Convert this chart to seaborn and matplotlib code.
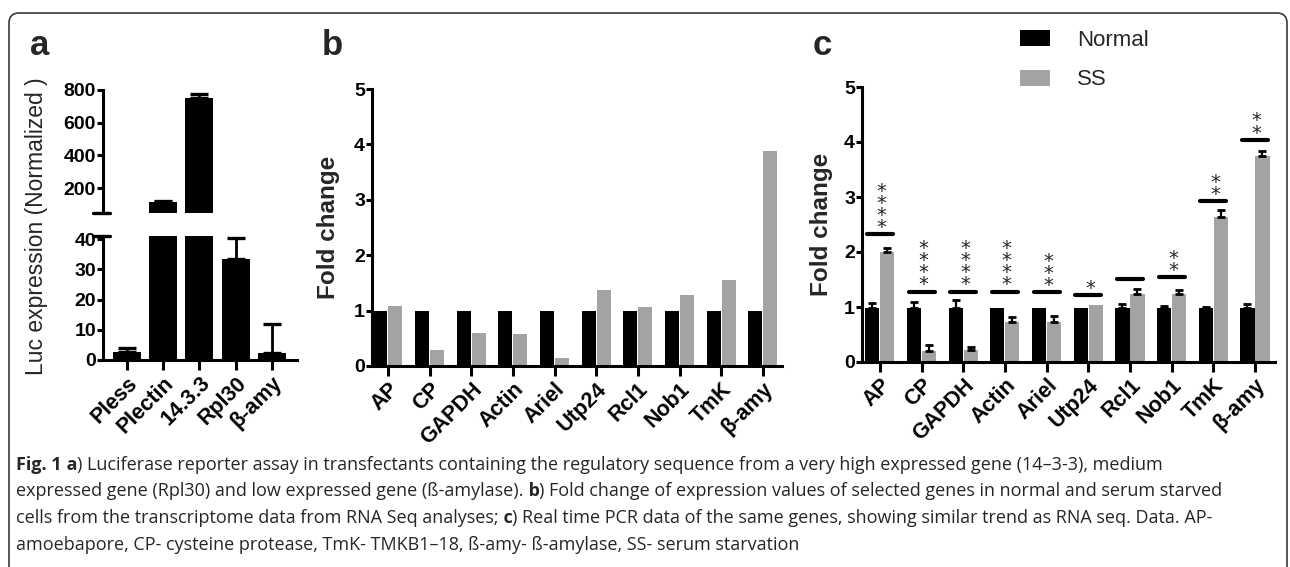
import matplotlib
matplotlib.use('Agg')
import matplotlib.pyplot as plt
import matplotlib.colors as mcolors
from matplotlib.patches import FancyBboxPatch, Patch
import numpy as np
import pandas as pd
import seaborn as sns

# panel a - luciferase reporter
luc_genes = ['Pless', 'Plectin', '14.3.3', 'Rpl30', 'β-amy']
luc_mean = [2.6, 114, 751, 33.5, 2.3]
luc_upper = [3.9, 118, 777, 40.3, 11.8]

# panel b - RNA seq fold change
genes = ['AP', 'CP', 'GAPDH', 'Actin', 'Ariel', 'Utp24', 'Rcl1', 'Nob1', 'TmK', 'β-amy']
seq_normal = [1, 1, 1, 1, 1, 1, 1, 1, 1, 1]
seq_ss = [1.08, 0.29, 0.59, 0.57, 0.14, 1.37, 1.06, 1.29, 1.56, 3.88]

# panel c - real time PCR
pcr_normal = [0.98, 0.98, 0.98, 0.98, 0.98, 0.98, 0.98, 0.98, 0.98, 0.98]
pcr_normal_upper = [1.08, 1.10, 1.13, 0.98, 0.98, 0.98, 1.06, 1.02, 1.0, 1.05]
pcr_ss = [2.0, 0.2, 0.22, 0.73, 0.73, 1.03, 1.23, 1.23, 2.64, 3.75]
pcr_ss_upper = [2.08, 0.31, 0.27, 0.81, 0.83, 1.03, 1.33, 1.31, 2.77, 3.84]
sig_level = [2.32, 1.28, 1.28, 1.28, 1.27, 1.22, 1.51, 1.54, 2.92, 4.04]
sig_stars = ['****', '****', '****', '****', '***', '*', '', '**', '**', '**']

caption_lines = [
    [('Fig. 1', 'bold'), (' a', 'bold'),
     (') Luciferase reporter assay in transfectants containing the regulatory sequence from a very high expressed gene (14–3-3), medium', 'normal')],
    [('expressed gene (Rpl30) and low expressed gene (ß-amylase).', 'normal'), (' b', 'bold'),
     (') Fold change of expression values of selected genes in normal and serum starved', 'normal')],
    [('cells from the transcriptome data from RNA Seq analyses;', 'normal'), (' c', 'bold'),
     (') Real time PCR data of the same genes, showing similar trend as RNA seq. Data. AP-', 'normal')],
    [('amoebapore, CP- cysteine protease, TmK- TMKB1–18, ß-amy- ß-amylase, SS- serum starvation', 'normal')],
]

BLACK = '#000000'
GRAY = '#a3a3a3'
W, H = 1290, 567

sns.set_style('ticks')
plt.rcParams['font.family'] = ['Liberation Sans', 'DejaVu Sans']
plt.rcParams['axes.linewidth'] = 2.2
plt.rcParams['axes.edgecolor'] = 'black'
plt.rcParams['xtick.color'] = 'black'
plt.rcParams['ytick.color'] = 'black'


def px_box(x0, y0, x1, y1):
    return [x0 / W, 1 - y1 / H, (x1 - x0) / W, (y1 - y0) / H]


def bar_centers(ax, color):
    rgba = mcolors.to_rgba(color)
    xs = [p.get_x() + p.get_width() / 2 for p in ax.patches
          if np.allclose(p.get_facecolor(), rgba, atol=0.01)]
    return sorted(xs)


def add_errors(ax, xs, means, uppers, capsize, lw=1.6):
    xs = np.asarray(xs)
    means = np.asarray(means, dtype=float)
    uppers = np.asarray(uppers, dtype=float)
    lo, hi = ax.get_ylim()
    keep = (uppers > means) & (uppers > lo)
    ax.errorbar(xs[keep], means[keep], yerr=[np.zeros(keep.sum()), uppers[keep] - means[keep]],
                fmt='none', ecolor='black', elinewidth=lw, capsize=capsize, capthick=lw + 0.4,
                zorder=1)


def style_ticks(ax, xlabels, ylen=4, xlen=7):
    sns.despine(ax=ax)
    ax.tick_params(axis='y', length=ylen, width=2.2, labelsize=14, pad=1)
    ax.tick_params(axis='x', length=xlen, width=2.2, pad=2)
    plt.setp(ax.get_yticklabels(), fontweight='bold')
    ax.set_xticks(range(len(xlabels)))
    ax.set_xticklabels(xlabels, rotation=45, ha='right', rotation_mode='anchor',
                       fontweight='bold', fontsize=15.5)
    ax.set_xlabel('')


fig = plt.figure(figsize=(W / 100, H / 100), dpi=100)

# background layer: frame, panel letters, caption
bg = fig.add_axes([0, 0, 1, 1], zorder=-5)
bg.set_xlim(0, W)
bg.set_ylim(H, 0)
bg.axis('off')
bg.add_patch(FancyBboxPatch((9, 13), 1278, 640, boxstyle='round,pad=0,rounding_size=10',
                            fill=False, ec='#3a3a3a', lw=1.2, clip_on=False))
for letter, x in [('a', 30), ('b', 322), ('c', 813)]:
    bg.text(x, 55, letter, fontsize=25, fontweight='bold', va='baseline')
bg.text(37, 226, 'Luc expression (Normalized )', fontsize=16.5, rotation=90, ha='center', va='center')

for i, segs in enumerate(caption_lines):
    prev = None
    for txt, weight in segs:
        if prev is None:
            prev = bg.text(16, 470 + i * 26.5, txt, fontsize=13, fontweight=weight,
                           family='Open Sans', va='baseline')
        else:
            prev = bg.annotate(txt, xy=(1, 0), xycoords=prev, va='bottom', ha='left',
                               fontsize=13, fontweight=weight, family='Open Sans')

# panel a: broken y axis
df_a = pd.DataFrame({'gene': luc_genes, 'value': luc_mean})
ax_top = fig.add_axes(px_box(103, 90, 297, 213))
ax_low = fig.add_axes(px_box(103, 236, 297, 360))
for ax, lims in ((ax_top, (47, 800)), (ax_low, (0, 41))):
    sns.barplot(data=df_a, x='gene', y='value', color=BLACK, saturation=1, width=0.77,
                linewidth=0, errorbar=None, ax=ax)
    ax.set_ylim(*lims)
    add_errors(ax, bar_centers(ax, BLACK), luc_mean, luc_upper, capsize=6.5, lw=2)
    ax.set_xlim(-0.66, 4.69)
    ax.set_ylabel('')
ax_top.set_yticks([200, 400, 600, 800])
ax_low.set_yticks([0, 10, 20, 30, 40])
style_ticks(ax_low, luc_genes, xlen=7)
style_ticks(ax_top, [], xlen=0)
ax_top.spines['bottom'].set_visible(False)
ax_top.tick_params(axis='x', bottom=False, labelbottom=False)
ax_top.plot([-0.05, 0.035], [0, 0], transform=ax_top.transAxes, clip_on=False, color='black', lw=2.4)
ax_low.plot([-0.05, 0.035], [1, 1], transform=ax_low.transAxes, clip_on=False, color='black', lw=2.4)

# panel b
df_b = pd.DataFrame({'gene': genes * 2, 'value': seq_normal + seq_ss,
                     'group': ['Normal'] * len(genes) + ['SS'] * len(genes)})
ax_b = fig.add_axes(px_box(372, 89, 782, 366))
sns.barplot(data=df_b, x='gene', y='value', hue='group', palette=[BLACK, GRAY], saturation=1,
            width=0.72, gap=0.06, linewidth=0, errorbar=None, legend=False, ax=ax_b)
ax_b.set_ylim(0, 5)
ax_b.set_yticks(range(6))
ax_b.set_xlim(-0.38, 9.46)
style_ticks(ax_b, genes)
ax_b.set_ylabel('Fold change', fontsize=17.5, fontweight='bold')
ax_b.yaxis.set_label_coords(-0.078, 0.5)

# panel c
df_c = pd.DataFrame({'gene': genes * 2, 'value': pcr_normal + pcr_ss,
                     'group': ['Normal'] * len(genes) + ['SS'] * len(genes)})
ax_c = fig.add_axes(px_box(862, 87, 1275, 362))
sns.barplot(data=df_c, x='gene', y='value', hue='group', palette=[BLACK, GRAY], saturation=1,
            width=0.72, gap=0.06, linewidth=0, errorbar=None, legend=False, ax=ax_c)
ax_c.set_ylim(0, 5)
add_errors(ax_c, bar_centers(ax_c, BLACK), pcr_normal, pcr_normal_upper, capsize=2.6)
add_errors(ax_c, bar_centers(ax_c, GRAY), pcr_ss, pcr_ss_upper, capsize=2.6)
ax_c.set_yticks(range(6))
ax_c.set_xlim(-0.43, 9.48)
style_ticks(ax_c, genes)
ax_c.set_ylabel('Fold change', fontsize=17.5, fontweight='bold')
ax_c.yaxis.set_label_coords(-0.07, 0.5)

pos = np.arange(len(genes))
ax_c.hlines(sig_level, pos - 0.31, pos + 0.31, colors='black', lw=3, capstyle='round')
for x, y, s in zip(pos, sig_level, sig_stars):
    if s:
        ax_c.annotate('\n'.join(s), xy=(x + 0.04, y), xytext=(0, -2), textcoords='offset points',
                      ha='center', va='bottom', fontsize=14, linespacing=0.54,
                      family='DejaVu Sans')

handles = [Patch(facecolor=BLACK, linewidth=0, label='Normal'),
           Patch(facecolor=GRAY, linewidth=0, label='SS')]
fig.legend(handles=handles, loc='upper left', bbox_to_anchor=(1020 / W, 1 - 30 / H),
           frameon=False, fontsize=16, handlelength=1.35, handleheight=0.72,
           handletextpad=1.2, labelspacing=0.83, borderpad=0, borderaxespad=0)

fig.savefig('out.png', dpi=100)
